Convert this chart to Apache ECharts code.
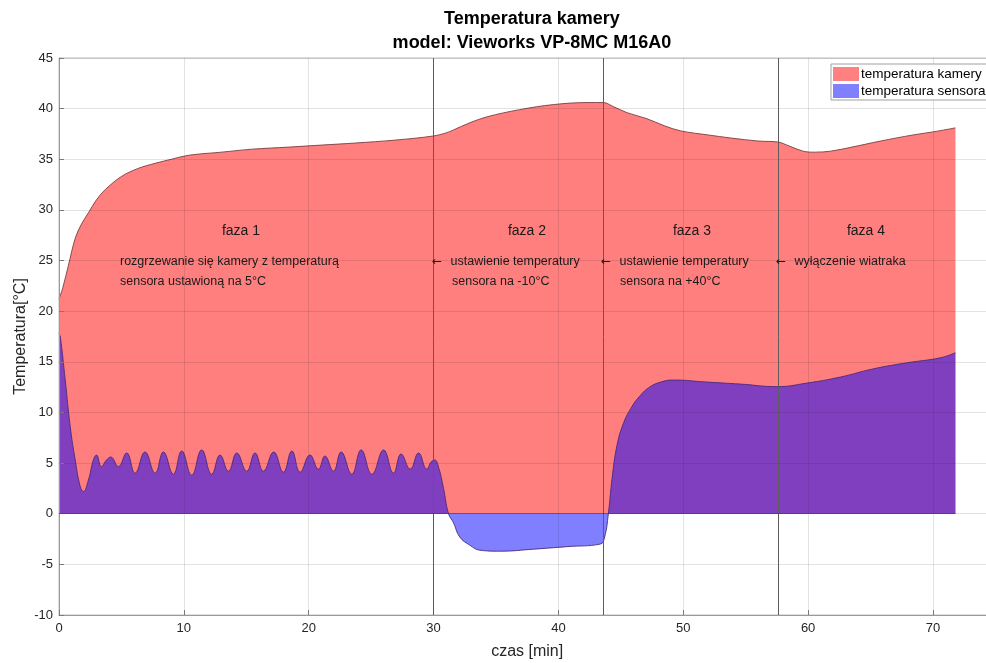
<!DOCTYPE html>
<html>
<head>
<meta charset="utf-8">
<script src="https://cdn.jsdelivr.net/npm/echarts@6/dist/echarts.min.js"></script>
<style>
  html, body { margin: 0; padding: 0; background: #ffffff; }
  #chart { width: 986px; height: 663px; }
</style>
</head>
<body>
<div id="chart"></div>
<script>
// Camera housing temperature [°C] over time [min]
const cameraTime = [0, 0.3, 0.75, 1.3, 1.8, 2.35, 3.0, 3.7, 5.0, 6.35, 7.7, 9.0, 10.4, 13, 15.5, 18.4, 21, 23.7, 27, 30,
  31, 31.6, 32.9, 34.3, 36.9, 39.6, 42.3, 43.6, 44.4, 45.5, 47.1, 48.5, 49.8, 52, 53.8, 56, 57.6,
  58.5, 59.6, 60.5, 61.8, 63.5, 65.8, 68.4, 70, 71.8];
const cameraTemp = [21.2, 22.3, 24.5, 27.2, 28.6, 29.7, 31.0, 32.0, 33.3, 34.1, 34.6, 35.0, 35.4, 35.7, 36.0, 36.2, 36.4, 36.6, 36.9, 37.3,
  37.6, 37.9, 38.6, 39.2, 39.9, 40.4, 40.6, 40.6, 40.2, 39.6, 39.0, 38.3, 37.8, 37.4, 37.1, 36.8, 36.7,
  36.3, 35.8, 35.7, 35.8, 36.2, 36.8, 37.4, 37.7, 38.1];

// Sensor temperature [°C] over time [min]
const sensorTime = [0, 0.1, 0.5, 0.9, 1.3, 1.7, 1.95, 2.35, 2.75, 3.0, 3.4, 3.8, 4.15, 4.75, 5.42, 6.09, 6.89, 7.7, 8.36, 9.16,
  9.83, 10.63, 11.43, 12.23, 12.9, 13.57, 14.24, 15.04, 15.7, 16.37, 17.2, 17.97, 18.65, 19.31, 20.1, 20.78,
  21.3, 21.98, 22.6, 23.45, 24.2, 25.06, 26.0, 26.79, 27.4, 28.13, 28.8, 29.46, 29.8, 30.1, 30.4, 30.8,
  31.2, 31.6, 32.1, 32.9, 33.7, 35.3, 38.0, 40.7, 43.35, 43.7, 44.0, 44.3, 44.7, 45.2, 45.8, 46.5,
  47.3, 48.2, 49.2, 51.9, 54.6, 57.5, 59.9, 62.6, 65.2, 67.9, 70.6, 71.8];
const sensorTemp = [17.8, 17.5, 13.2, 8.6, 5.3, 2.7, 2.2, 3.3, 5.3, 5.8, 4.65, 5.3, 5.6, 4.65, 6.0, 4.0, 6.1, 4.0, 6.1, 3.9,
  6.2, 3.8, 6.3, 3.9, 5.8, 4.2, 6.0, 4.2, 6.0, 4.2, 6.1, 4.1, 6.2, 4.1, 5.8, 4.4,
  5.7, 4.2, 6.1, 3.9, 6.3, 3.9, 6.3, 4.0, 5.9, 4.4, 6.0, 4.4, 5.1, 5.3, 4.6, 2.5,
  0, -0.9, -2.3, -3.1, -3.6, -3.7, -3.5, -3.25, -3.0, -2.3, 0, 3.5, 6.8, 8.9, 10.4, 11.6,
  12.5, 13.0, 13.2, 13.0, 12.8, 12.55, 12.9, 13.5, 14.3, 14.9, 15.4, 15.9];

// Moments when the test phase changes [min]
const phaseStarts = [30, 43.6, 57.6];

const seriesNames = ['temperatura kamery', 'temperatura sensora'];
const phaseTitles = ['faza 1', 'faza 2', 'faza 3', 'faza 4'];
const phaseNotes = [
  ['rozgrzewanie się kamery z temperaturą', 'sensora ustawioną na 5°C'],
  ['{arr|←} ustawienie temperatury', 'sensora na -10°C'],
  ['{arr|←} ustawienie temperatury', 'sensora na +40°C'],
  ['{arr|←} wyłączenie wiatraka', '']
];

const FONT = '"Liberation Sans", Arial, Helvetica, sans-serif';
const INK = '#262626';

const zip = (xs, ys) => xs.map((x, i) => [x, ys[i]]);

const chart = echarts.init(document.getElementById('chart'), null, { renderer: 'canvas' });

// Annotation layout (pixels)
const titleX = [241, 527, 692, 866];
const noteX = [[120, 120], [432, 452], [601, 620], [776, 0]];
const graphics = [];
phaseTitles.forEach((t, i) => {
  graphics.push({
    type: 'text', x: titleX[i], y: 231, z: 100,
    style: { text: t, fill: '#1a1a1a', font: '14px ' + FONT, textAlign: 'center', textVerticalAlign: 'middle' }
  });
  phaseNotes[i].forEach((line, j) => {
    if (!line) return;
    graphics.push({
      type: 'text', x: noteX[i][j], y: 262 + j * 20, z: 100,
      style: {
        text: line, fill: '#1a1a1a', fontSize: 12.5, fontFamily: FONT,
        align: 'left', verticalAlign: 'middle',
        rich: { arr: { fontFamily: '"DejaVu Sans", sans-serif', fontSize: 12, fill: '#1a1a1a', padding: [0, 5, 0, 0] } }
      }
    });
  });
});

const axisCommon = {
  z: 3,
  axisLine: { show: true, onZero: false, lineStyle: { color: '#9a9a9a', width: 1 } },
  axisTick: { show: true, inside: true, length: 5, lineStyle: { color: '#7a7a7a' } },
  axisLabel: { color: INK, fontSize: 13, fontFamily: FONT },
  splitLine: { show: true, lineStyle: { color: 'rgba(38,38,38,0.13)', width: 1 } },
  nameTextStyle: { color: INK, fontSize: 16, fontFamily: FONT },
  nameMoveOverlap: false
};

chart.setOption({
  animation: false,
  backgroundColor: '#ffffff',
  title: {
    text: 'Temperatura kamery\nmodel: Vieworks VP-8MC M16A0',
    left: 527, top: 2, textAlign: 'center',
    textStyle: { fontSize: 18, fontWeight: 'bold', color: '#000', fontFamily: FONT, lineHeight: 24 }
  },
  legend: {
    left: 831, top: 64, orient: 'vertical',
    icon: 'rect', itemWidth: 26, itemHeight: 14, itemGap: 3,
    padding: [3, 4, 2, 2],
    borderColor: '#a0a0a0', borderWidth: 1, backgroundColor: '#ffffff',
    textStyle: { color: '#000', fontSize: 13.5, fontFamily: FONT, padding: [0, 0, 0, -3] },
    data: [
      { name: seriesNames[0], itemStyle: { color: 'rgb(255,128,128)', borderWidth: 0 } },
      { name: seriesNames[1], itemStyle: { color: 'rgb(128,128,255)', borderWidth: 0 } }
    ],
    z: 20
  },
  grid: {
    left: 59, top: 58, width: 936.4, height: 557,
    containLabel: false, outerBoundsMode: 'none',
    show: true, borderColor: '#bdbdbd', borderWidth: 1, backgroundColor: 'transparent'
  },
  xAxis: Object.assign({}, axisCommon, {
    type: 'value', min: 0, max: 75, interval: 10,
    name: 'czas [min]', nameLocation: 'middle', nameGap: 29,
    axisLabel: Object.assign({}, axisCommon.axisLabel, { margin: 7, showMaxLabel: false })
  }),
  yAxis: Object.assign({}, axisCommon, {
    type: 'value', min: -10, max: 45, interval: 5,
    name: 'Temperatura[°C]', nameLocation: 'middle', nameGap: 30, nameRotate: 90,
    axisLabel: Object.assign({}, axisCommon.axisLabel, { margin: 6 })
  }),
  series: [
    {
      name: seriesNames[0], type: 'line', data: zip(cameraTime, cameraTemp),
      showSymbol: false, smooth: 0.35, z: 1,
      color: 'rgba(255,0,0,0.5)',
      lineStyle: { color: '#7c3d3d', width: 0.9 },
      areaStyle: { color: 'rgba(255,0,0,0.5)', origin: 0, opacity: 1 }
    },
    {
      name: seriesNames[1], type: 'line', data: zip(sensorTime, sensorTemp),
      showSymbol: false, smooth: 0.45, z: 2,
      color: 'rgba(0,0,255,0.5)',
      lineStyle: { color: '#4a2a78', width: 0.9 },
      areaStyle: { color: 'rgba(0,0,255,0.5)', origin: 0, opacity: 1 },
      markLine: {
        silent: true, symbol: 'none', animation: false,
        label: { show: false },
        data: phaseStarts.map(t => ({ xAxis: t, lineStyle: { color: '#5c5c5c', width: 1, type: 'solid' } })).concat([
          [
            { coord: [sensorTime[0], 0], lineStyle: { color: 'rgba(70,30,70,0.55)', width: 1, type: 'solid' } },
            { coord: [sensorTime[sensorTime.length - 1], 0] }
          ]
        ])
      }
    }
  ],
  graphic: graphics
});
</script>
</body>
</html>
